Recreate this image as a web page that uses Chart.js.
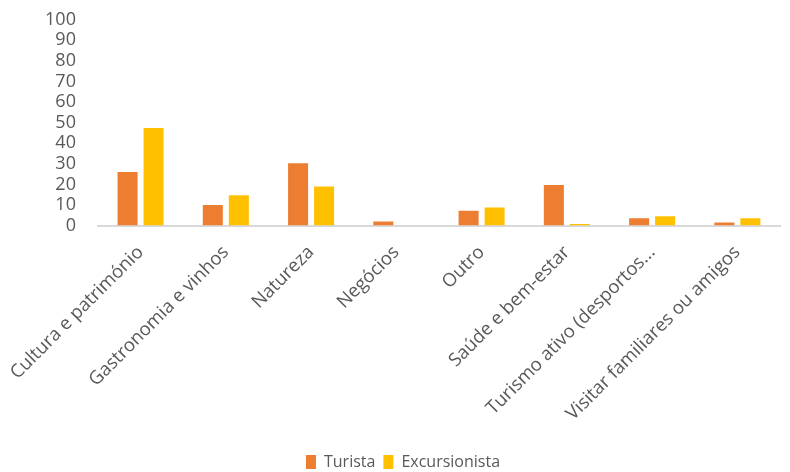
<!DOCTYPE html>
<html lang="pt">
<head>
<meta charset="UTF-8">
<script src="https://cdn.jsdelivr.net/npm/chart.js"></script>
<title>Motivos da visita</title>
<style>
    body { margin: 0; background: #fff; overflow: hidden; }
    #caixa { width: 790px; height: 477px; margin-top: -5px; }
</style>
</head>
<body>
<div id="caixa"><canvas id="grafico"></canvas></div>
<script>
    var categorias = ["Cultura e património", "Gastronomia e vinhos", "Natureza", "Negócios", "Outro",
        "Saúde e bem-estar", "Turismo ativo (desportos...", "Visitar familiares ou amigos"];
    var turista = [26, 10, 30.3, 2, 7.2, 19.7, 3.5, 1.5];
    var excursionista = [47.4, 14.7, 19, 0, 8.8, 0.8, 4.5, 3.5];
    var ticksY = [0, 10, 20, 30, 40, 50, 60, 70, 80, 90, 100];

    var fonte = "'Open Sans', sans-serif";
    var cinza = "#595959";

    new Chart(document.getElementById("grafico"), {
        type: "bar",
        data: {
            labels: categorias,
            datasets: [{
                label: "Turista",
                data: turista,
                backgroundColor: "#ED7D31",
                categoryPercentage: 0.61,
                barPercentage: 0.77
            }, {
                label: "Excursionista",
                data: excursionista,
                backgroundColor: "#FFC000",
                categoryPercentage: 0.61,
                barPercentage: 0.77
            }]
        },
        options: {
            responsive: true,
            maintainAspectRatio: false,
            animation: false,
            layout: { padding: { top: -9, right: 10, left: 26, bottom: -8 } },
            plugins: {
                legend: {
                    position: "bottom",
                    labels: {
                        boxWidth: 10,
                        boxHeight: 14,
                        padding: 8,
                        color: cinza,
                        font: { family: fonte, size: 16 }
                    }
                },
                tooltip: { enabled: false }
            },
            scales: {
                x: {
                    grid: { display: false },
                    border: { color: "#D9D9D9", width: 2 },
                    afterFit: function (eixo) {
                        eixo.height += 13;
                    },
                    ticks: {
                        color: cinza,
                        minRotation: 45,
                        maxRotation: 45,
                        autoSkip: false,
                        padding: 8,
                        font: { family: fonte, size: 18.5 }
                    }
                },
                y: {
                    min: 0,
                    max: 100,
                    grid: { display: false },
                    border: { display: false },
                    afterBuildTicks: function (eixo) {
                        eixo.ticks = ticksY.map(function (v) { return { value: v }; });
                    },
                    ticks: {
                        color: cinza,
                        autoSkip: false,
                        padding: 14,
                        font: { family: fonte, size: 18 }
                    }
                }
            }
        }
    });
</script>
</body>
</html>
